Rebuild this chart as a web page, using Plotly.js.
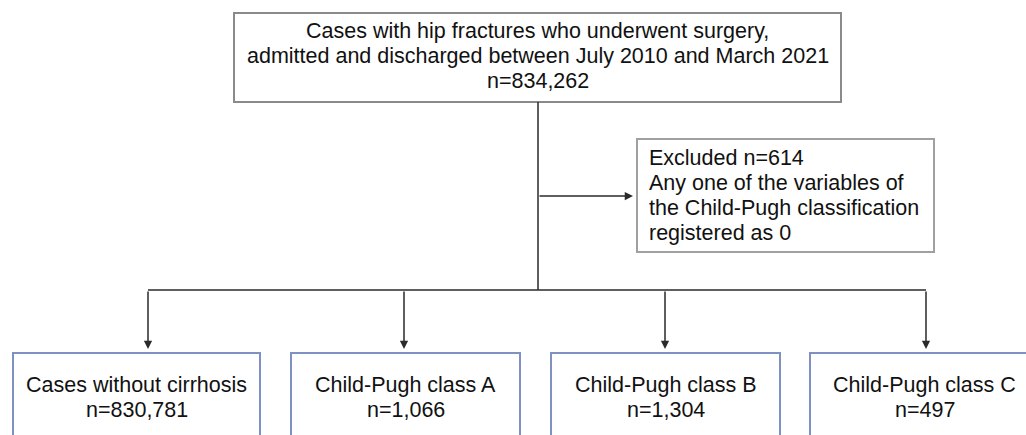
<!DOCTYPE html>
<html>
<head>
<meta charset="utf-8">
<script src="https://cdn.plot.ly/plotly-3.0.1.min.js"></script>
<style>html,body{margin:0;padding:0;background:#fff;}#chart{width:1026px;height:435px;}</style>
</head>
<body>
<div id="chart"></div>
<script>
// ---- data ----
const topLines = ["Cases with hip fractures who underwent surgery,", "admitted and discharged between July 2010 and March 2021"];
const totalN = 834262;
const excludedN = 614;
const excludedReason = ["Any one of the variables of", "the Child-Pugh classification", "registered as 0"];
const groups = ["Cases without cirrhosis", "Child-Pugh class A", "Child-Pugh class B", "Child-Pugh class C"];
const groupN = [830781, 1066, 1304, 497];

// ---- layout geometry ----
const W = 1026, H = 435;
const topBox = {x0: 234, x1: 841, y0: 13, y1: 102};
const trunkX = 538;
const exclBox = {x0: 637, x1: 934, y0: 139, y1: 252};
const exclY = 196;
const busY = 290;
const groupBoxes = [[13, 260], [291, 520], [551, 780], [810, 1039]];
const arrowX = [148, 404, 665, 926];
const groupTop = 353;
const fontFam = "Liberation Sans, Arial, Helvetica, sans-serif";
const fs = 21.5;
const txtCol = "#111111";
const lineCol = "#2a2a2a";

const fmt = v => "n=" + v.toLocaleString("en-US");

const shapes = [];
const annotations = [];

// top box
shapes.push({type: "rect", xref: "x", yref: "y", x0: topBox.x0, x1: topBox.x1, y0: topBox.y0, y1: topBox.y1,
  line: {color: "#8a8a8a", width: 2}, fillcolor: "rgba(0,0,0,0)"});
const topText = topLines.concat([fmt(totalN)]);
topText.forEach((t, i) => {
  annotations.push({xref: "x", yref: "y", x: (topBox.x0 + topBox.x1) / 2, y: 31 + i * 25, text: t, showarrow: false,
    xanchor: "center", yanchor: "middle", font: {family: fontFam, size: fs, color: txtCol}});
});

// trunk
shapes.push({type: "line", xref: "x", yref: "y", x0: trunkX, x1: trunkX, y0: topBox.y1, y1: busY,
  line: {color: lineCol, width: 1.5}});
// exclusion arrow
annotations.push({xref: "x", yref: "y", axref: "x", ayref: "y", x: exclBox.x0 - 4, y: exclY, ax: trunkX, ay: exclY,
  text: "", showarrow: true, arrowhead: 2, arrowsize: 1.1, arrowwidth: 1.5, arrowcolor: lineCol, standoff: 0});
// exclusion box
shapes.push({type: "rect", xref: "x", yref: "y", x0: exclBox.x0, x1: exclBox.x1, y0: exclBox.y0, y1: exclBox.y1,
  line: {color: "#a0a0a0", width: 2}, fillcolor: "rgba(0,0,0,0)"});
const exclText = ["Excluded " + fmt(excludedN)].concat(excludedReason);
exclText.forEach((t, i) => {
  annotations.push({xref: "x", yref: "y", x: exclBox.x0 + 10, y: 158 + i * 25, text: t, showarrow: false,
    xanchor: "left", yanchor: "middle", font: {family: fontFam, size: fs, color: txtCol}});
});

// bus
shapes.push({type: "line", xref: "x", yref: "y", x0: arrowX[0], x1: arrowX[arrowX.length - 1], y0: busY, y1: busY,
  line: {color: lineCol, width: 1.5}});

groups.forEach((g, i) => {
  annotations.push({xref: "x", yref: "y", axref: "x", ayref: "y", x: arrowX[i], y: groupTop - 4, ax: arrowX[i], ay: busY,
    text: "", showarrow: true, arrowhead: 2, arrowsize: 1.1, arrowwidth: 1.5, arrowcolor: lineCol, standoff: 0});
  const [x0, x1] = groupBoxes[i];
  shapes.push({type: "rect", xref: "x", yref: "y", x0: x0, x1: x1, y0: groupTop, y1: H + 40,
    line: {color: "#7f90c2", width: 2}, fillcolor: "rgba(0,0,0,0)"});
  const cx = (x0 + x1) / 2;
  annotations.push({xref: "x", yref: "y", x: cx, y: 385, text: g, showarrow: false, xanchor: "center", yanchor: "middle",
    font: {family: fontFam, size: fs, color: txtCol}});
  annotations.push({xref: "x", yref: "y", x: cx, y: 410, text: fmt(groupN[i]), showarrow: false, xanchor: "center", yanchor: "middle",
    font: {family: fontFam, size: fs, color: txtCol}});
});

const layout = {
  width: W, height: H,
  margin: {l: 0, r: 0, t: 0, b: 0, pad: 0},
  paper_bgcolor: "#ffffff", plot_bgcolor: "#ffffff",
  xaxis: {range: [0, W], visible: false, fixedrange: true},
  yaxis: {range: [H, 0], visible: false, fixedrange: true},
  showlegend: false,
  shapes: shapes,
  annotations: annotations
};

Plotly.newPlot("chart", [], layout, {staticPlot: true, displayModeBar: false});
</script>
</body>
</html>
